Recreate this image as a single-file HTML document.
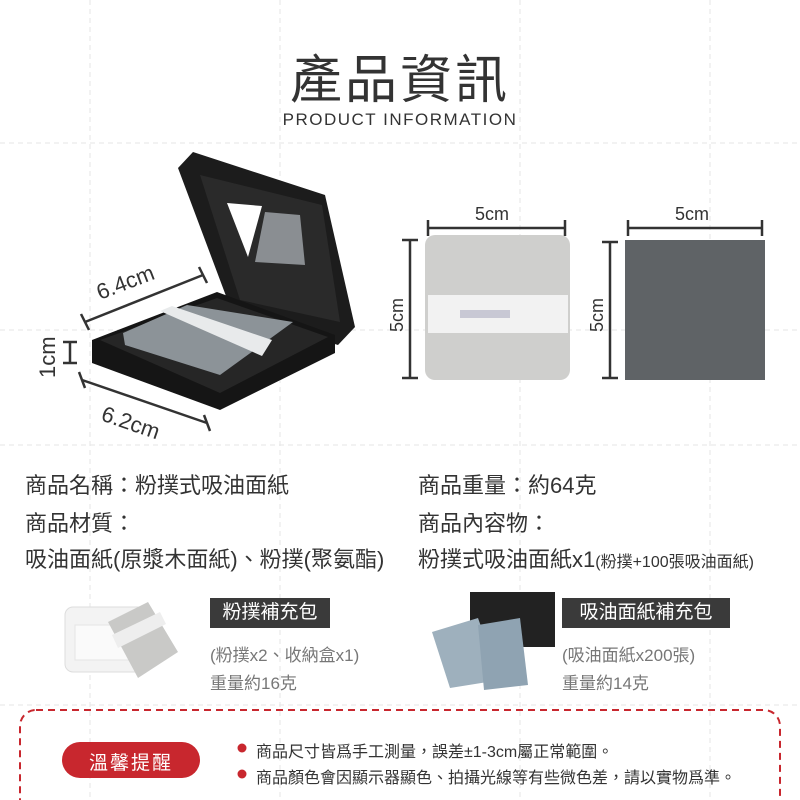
<!DOCTYPE html>
<html><head><meta charset="utf-8"><style>
body{margin:0;width:800px;height:800px;overflow:hidden;background:#fff;font-family:"Liberation Sans","Noto Sans CJK TC",sans-serif;color:#333;position:relative}
.a{position:absolute;white-space:nowrap}
.t{font-size:22px;color:#333}
.g{font-size:17px;color:#777}
.lab{position:absolute;background:#3a3a3a;color:#fff;font-size:19px;text-align:center;line-height:30px;height:30px}
</style></head><body>
<svg class="a" style="left:0;top:0" width="800" height="800">
<g stroke="#e6e6e6" stroke-dasharray="5,4" stroke-width="1" fill="none">
<line x1="0" y1="143" x2="800" y2="143"/><line x1="0" y1="330" x2="800" y2="330"/><line x1="0" y1="445" x2="800" y2="445"/><line x1="0" y1="705" x2="800" y2="705"/>
<line x1="90" y1="0" x2="90" y2="800"/><line x1="280" y1="0" x2="280" y2="800"/><line x1="520" y1="0" x2="520" y2="800"/><line x1="710" y1="0" x2="710" y2="800"/>
</g>
<polygon points="178,168 193,152 325,195 355,327 338,345 232,312" fill="#1c1c1c"/>
<polygon points="200,175 322,205 340,322 240,300" fill="#2a2a2a"/>
<polygon points="227,203 262,206 248,257" fill="#fff"/>
<polygon points="265,212 300,215 305,265 255,262" fill="#8a8e92"/>
<polygon points="92,340 217,292 335,335 335,353 220,410 92,363" fill="#151515"/>
<polygon points="100,340 217,298 328,337 220,393" fill="#262626"/>
<polygon points="123,333 187,305 293,322 220,375 125,345" fill="#8c9398"/>
<polygon points="160,311 172,306 272,340 262,356" fill="#e8eaeb"/>
<g stroke="#333" stroke-width="2.5" fill="none">
<line x1="85" y1="322" x2="203" y2="275"/><line x1="81" y1="314" x2="89" y2="330"/><line x1="199" y1="267" x2="207" y2="283"/>
<line x1="70" y1="342" x2="70" y2="363"/><line x1="63" y1="342" x2="77" y2="342"/><line x1="63" y1="363" x2="77" y2="363"/>
<line x1="82" y1="380" x2="207" y2="423"/><line x1="79" y1="372" x2="85" y2="388"/><line x1="204" y1="415" x2="210" y2="431"/>
</g>
<text x="100" y="300" font-size="22" fill="#333" transform="rotate(-21 100 300)" font-family="Liberation Sans">6.4cm</text>
<text x="55" y="378" font-size="22" fill="#333" transform="rotate(-90 55 378)" font-family="Liberation Sans">1cm</text>
<text x="100" y="420" font-size="22" fill="#333" transform="rotate(19 100 420)" font-family="Liberation Sans">6.2cm</text>
<rect x="425" y="235" width="145" height="145" rx="10" fill="#cfcfcd"/>
<rect x="428" y="295" width="140" height="38" fill="#f2f2f2"/>
<rect x="460" y="310" width="50" height="8" fill="#c8c8d4"/>
<rect x="625" y="240" width="140" height="140" fill="#5f6366"/>
<g stroke="#333" stroke-width="2.5">
<line x1="428" y1="228" x2="565" y2="228"/><line x1="428" y1="220" x2="428" y2="236"/><line x1="565" y1="220" x2="565" y2="236"/>
<line x1="410" y1="240" x2="410" y2="378"/><line x1="402" y1="240" x2="418" y2="240"/><line x1="402" y1="378" x2="418" y2="378"/>
<line x1="628" y1="228" x2="762" y2="228"/><line x1="628" y1="220" x2="628" y2="236"/><line x1="762" y1="220" x2="762" y2="236"/>
<line x1="610" y1="242" x2="610" y2="378"/><line x1="602" y1="242" x2="618" y2="242"/><line x1="602" y1="378" x2="618" y2="378"/>
</g>
<text x="475" y="220" font-size="18" fill="#333" font-family="Liberation Sans">5cm</text>
<text x="675" y="220" font-size="18" fill="#333" font-family="Liberation Sans">5cm</text>
<text x="403" y="332" font-size="18" fill="#333" transform="rotate(-90 403 332)" font-family="Liberation Sans">5cm</text>
<text x="603" y="332" font-size="18" fill="#333" transform="rotate(-90 603 332)" font-family="Liberation Sans">5cm</text>
<rect x="65" y="607" width="80" height="65" rx="8" fill="#f3f3f3" stroke="#ddd"/>
<rect x="75" y="625" width="60" height="35" fill="#fafafa" stroke="#e4e4e4"/>
<polygon points="108,622 148,602 178,652 138,678" fill="#c9c9c7"/>
<polygon points="112,635 160,612 166,624 118,648" fill="#eee"/>
<rect x="470" y="592" width="85" height="55" fill="#222"/>
<polygon points="432,632 478,618 500,680 450,688" fill="#9eb0bd"/>
<polygon points="478,625 520,618 528,685 484,690" fill="#8fa3b2"/>
<rect x="20" y="710" width="760" height="110" rx="16" fill="none" stroke="#c8272e" stroke-width="2" stroke-dasharray="7,5"/>
<rect x="62" y="742" width="138" height="36" rx="18" fill="#c8272e"/>
<circle cx="242" cy="748" r="4.5" fill="#c8272e"/><circle cx="242" cy="774" r="4.5" fill="#c8272e"/>
</svg>
<div class="a" style="left:0;width:800px;text-align:center;top:38px;font-size:52px;color:#333;letter-spacing:3px">產品資訊</div>
<div class="a" style="left:0;width:800px;text-align:center;top:110px;font-size:17px;color:#333;letter-spacing:1.5px">PRODUCT INFORMATION</div>
<div class="a t" style="left:25px;top:468px">商品名稱：粉撲式吸油面紙</div>
<div class="a t" style="left:418px;top:468px">商品重量：約64克</div>
<div class="a t" style="left:25px;top:506px">商品材質：</div>
<div class="a t" style="left:418px;top:506px">商品內容物：</div>
<div class="a t" style="left:25px;top:542px">吸油面紙(原漿木面紙)、粉撲(聚氨酯)</div>
<div class="a t" style="left:418px;top:542px">粉撲式吸油面紙x1<span style="font-size:16px">(粉撲+100張吸油面紙)</span></div>
<div class="lab" style="left:210px;top:598px;width:120px">粉撲補充包</div>
<div class="lab" style="left:562px;top:598px;width:168px">吸油面紙補充包</div>
<div class="a g" style="left:210px;top:641px">(粉撲x2、收納盒x1)</div>
<div class="a g" style="left:210px;top:669px">重量約16克</div>
<div class="a g" style="left:562px;top:641px">(吸油面紙x200張)</div>
<div class="a g" style="left:562px;top:669px">重量約14克</div>
<div class="a" style="left:62px;top:748px;width:138px;text-align:center;color:#fff;font-size:19px;letter-spacing:2px">溫馨提醒</div>
<div class="a" style="left:256px;top:738px;font-size:16px;color:#333">商品尺寸皆爲手工測量，誤差±1-3cm屬正常範圍。</div>
<div class="a" style="left:256px;top:764px;font-size:16px;color:#333">商品顏色會因顯示器顯色、拍攝光線等有些微色差，請以實物爲準。</div>
</body></html>
